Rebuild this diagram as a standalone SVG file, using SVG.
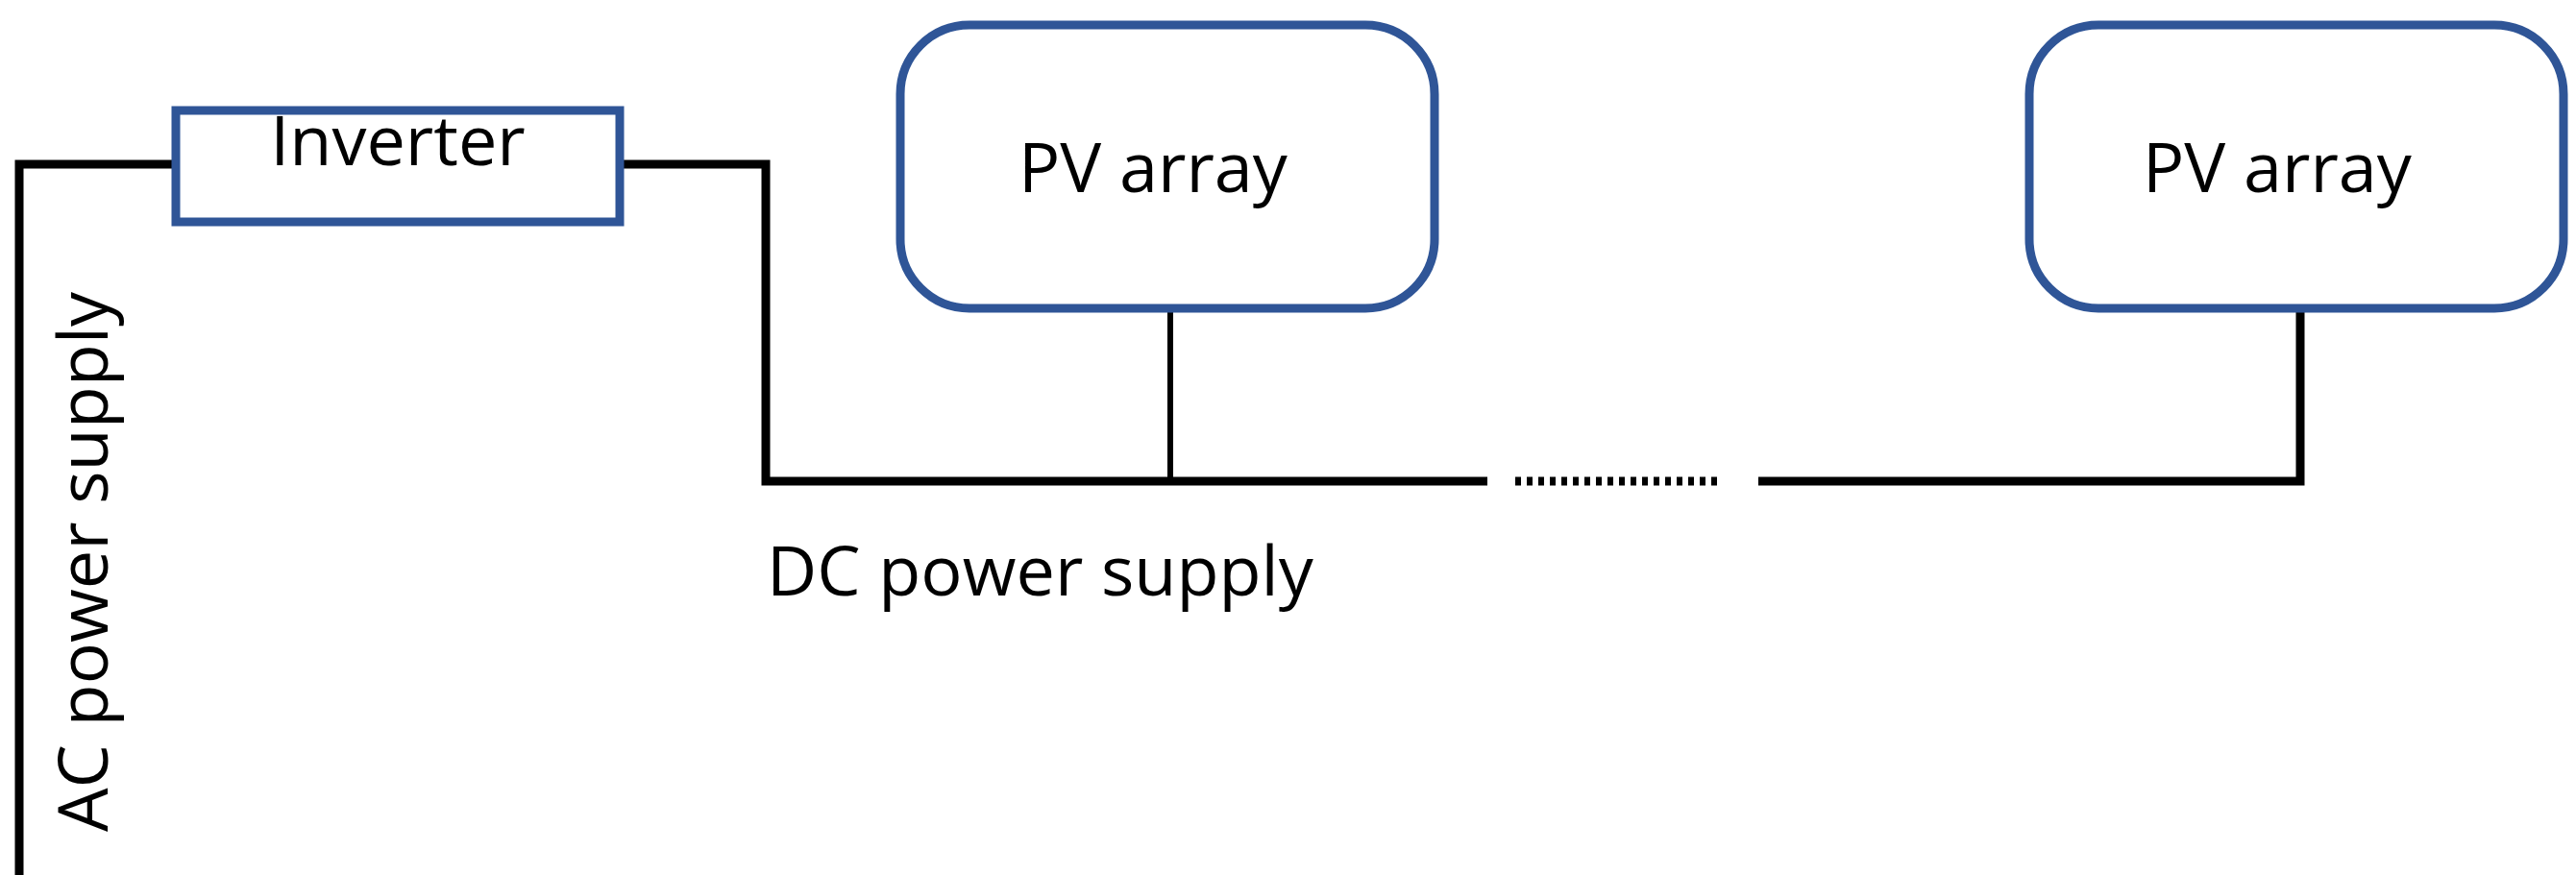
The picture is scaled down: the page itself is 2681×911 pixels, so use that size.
<svg xmlns="http://www.w3.org/2000/svg" width="2681" height="911" viewBox="0 0 2681 911">
<style>
.box{fill:#fff;stroke:#2F5597;stroke-width:9}
.w{fill:none;stroke:#000;stroke-width:9}
.t{font-family:"Open Sans","Liberation Sans",sans-serif;font-size:72px;fill:#000}
</style>
<rect width="2681" height="911" fill="#fff"/>
<g id="connectors">
<polyline class="w" points="20,911 20,171 183,171"/>
<polyline class="w" points="645,171 797,171 797,501 1548,501"/>
<line class="w" x1="1577" y1="501" x2="1790" y2="501" stroke-dasharray="6,6"/>
<polyline class="w" points="1830,501 2394,501 2394,318"/>
<line class="w" style="stroke-width:6" x1="1218" y1="321" x2="1218" y2="501"/>
</g>
<g id="inverter"><rect class="box" x="183" y="115" width="462" height="116"/><text class="t" x="414" y="172" text-anchor="middle">Inverter</text></g>
<g id="pv1"><rect class="box" x="937" y="26" width="556" height="295" rx="72"/><text class="t" x="1200" y="200" text-anchor="middle">PV array</text></g>
<g id="pv2"><rect class="box" x="2112" y="26" width="556" height="295" rx="72"/><text class="t" x="2370" y="200" text-anchor="middle">PV array</text></g>
<text class="t" x="798" y="620">DC power supply</text>
<text class="t" transform="translate(112,866) rotate(-90)">AC power supply</text>
</svg>
